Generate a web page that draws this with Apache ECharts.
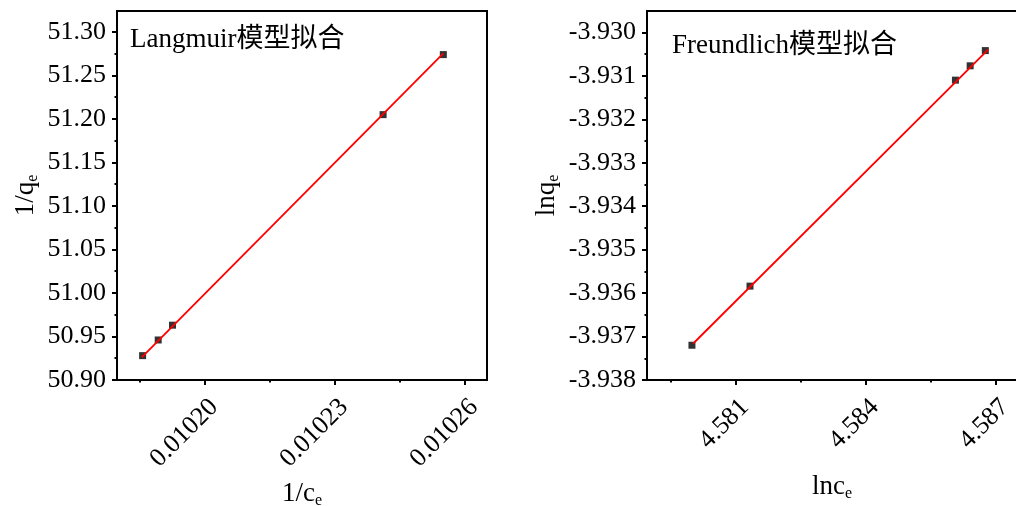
<!DOCTYPE html>
<html>
<head>
<meta charset="utf-8">
<script src="https://cdn.jsdelivr.net/npm/echarts@6/dist/echarts.min.js"></script>
<style>
html,body{margin:0;padding:0;background:#fff;}
#c{width:1016px;height:506px;}
</style>
</head>
<body>
<div id="c"></div>
<script>
// ---- Langmuir data (1/ce vs 1/qe) ----
const langX = [0.0101856, 0.0101892, 0.0101925, 0.0102411, 0.0102550];
const langY = [50.928, 50.946, 50.963, 51.205, 51.274];
const langFitX = [0.0101854, 0.0102550];
const langFitY = [50.926, 51.2755];
const langXTicks = [0.01020, 0.01023, 0.01026];
const langXMinor = [0.010185, 0.010215, 0.010245];
const langYTicks = [50.90, 50.95, 51.00, 51.05, 51.10, 51.15, 51.20, 51.25, 51.30];
const langYMinor = [50.925, 50.975, 51.025, 51.075, 51.125, 51.175, 51.225, 51.275];

// ---- Freundlich data (lnce vs lnqe) ----
const freuX = [4.57999, 4.58133, 4.58607, 4.58641, 4.58676];
const freuY = [-3.93720, -3.93584, -3.93110, -3.93077, -3.93042];
const freuFitX = [4.58002, 4.58683];
const freuFitY = [-3.93716, -3.93039];
const freuXTicks = [4.581, 4.584, 4.587];
const freuXMinor = [4.5795, 4.5825, 4.5855];
const freuYTicks = [-3.938, -3.937, -3.936, -3.935, -3.934, -3.933, -3.932, -3.931, -3.930];
const freuYMinor = [-3.9375, -3.9365, -3.9355, -3.9345, -3.9335, -3.9325, -3.9315, -3.9305];

const FONT = '"Liberation Serif", "Times New Roman", "Noto Sans CJK SC", serif';
const TICK_FS = 26;

function pairs(xs, ys) { return xs.map((x, i) => [x, ys[i]]); }

function mainAxis(gridIndex, min, max, ticks, dec, isX, nameRich) {
  const ax = {
    type: 'value', gridIndex, min, max,
    position: isX ? 'bottom' : 'left',
    splitLine: { show: false },
    axisLine: { show: true, onZero: false, lineStyle: { color: '#000', width: 2 } },
    axisTick: { show: true, inside: false, length: 5, customValues: ticks, lineStyle: { color: '#000', width: 2 } },
    axisLabel: {
      customValues: ticks,
      formatter: v => Number(v).toFixed(dec),
      fontFamily: FONT, fontSize: TICK_FS, color: '#000',
      margin: 11
    },
    name: nameRich.text,
    nameLocation: 'middle',
    nameGap: nameRich.gap,
    nameRotate: isX ? 0 : 90,
    nameTextStyle: {
      fontFamily: FONT, color: '#000',
      rich: {
        m: { fontFamily: FONT, fontSize: 27, color: '#000', lineHeight: 30 },
        s: { fontFamily: FONT, fontSize: 16, color: '#000', lineHeight: 30, padding: [14, 0, 0, 0] }
      }
    }
  };
  if (isX) {
    ax.axisLabel.rotate = 45;
    ax.axisLabel.verticalAlign = 'top';
    ax.axisLabel.margin = 14;
  }
  return ax;
}

function minorAxis(gridIndex, min, max, ticks, isX) {
  return {
    type: 'value', gridIndex, min, max,
    position: isX ? 'bottom' : 'left',
    splitLine: { show: false },
    axisLine: { show: false, onZero: false },
    axisTick: { show: true, inside: false, length: 2.5, customValues: ticks, lineStyle: { color: '#000', width: 2 } },
    axisLabel: { show: false }
  };
}

const chart = echarts.init(document.getElementById('c'), null, { renderer: 'canvas' });

const LX_MIN = 0.01017969, LX_MAX = 0.01026508;
const LY_MIN = 50.90, LY_MAX = 51.3241;
const RX_MIN = 4.578953, RX_MAX = 4.587491;
const RY_MIN = -3.938, RY_MAX = -3.929509;

const gridBase = { show: true, borderColor: '#000', borderWidth: 2, backgroundColor: 'transparent',
  containLabel: false, outerBoundsMode: 'none' };

const option = {
  backgroundColor: '#fff',
  animation: false,
  grid: [
    Object.assign({ left: 117, top: 11, width: 370, height: 369 }, gridBase),
    Object.assign({ left: 647, top: 11, width: 370, height: 369 }, gridBase)
  ],
  xAxis: [
    mainAxis(0, LX_MIN, LX_MAX, langXTicks, 5, true, { text: '{m|1/c}{s|e}', gap: 89 }),
    mainAxis(1, RX_MIN, RX_MAX, freuXTicks, 3, true, { text: '{m|lnc}{s|e}', gap: 92 }),
    minorAxis(0, LX_MIN, LX_MAX, langXMinor, true),
    minorAxis(1, RX_MIN, RX_MAX, freuXMinor, true)
  ],
  yAxis: [
    mainAxis(0, LY_MIN, LY_MAX, langYTicks, 2, false, { text: '{m|1/q}{s|e}', gap: 76 }),
    mainAxis(1, RY_MIN, RY_MAX, freuYTicks, 3, false, { text: '{m|lnq}{s|e}', gap: 85 }),
    minorAxis(0, LY_MIN, LY_MAX, langYMinor, false),
    minorAxis(1, RY_MIN, RY_MAX, freuYMinor, false)
  ],
  series: [
    { type: 'scatter', xAxisIndex: 0, yAxisIndex: 0, data: pairs(langX, langY), symbol: 'rect', symbolSize: 7,
      itemStyle: { color: '#000' }, z: 2 },
    { type: 'line', xAxisIndex: 0, yAxisIndex: 0, data: pairs(langFitX, langFitY), showSymbol: false, symbol: 'none',
      lineStyle: { color: '#ff0000', width: 1.8 }, z: 3 },
    { type: 'scatter', xAxisIndex: 1, yAxisIndex: 1, data: pairs(freuX, freuY), symbol: 'rect', symbolSize: 7,
      itemStyle: { color: '#000' }, z: 2 },
    { type: 'line', xAxisIndex: 1, yAxisIndex: 1, data: pairs(freuFitX, freuFitY), showSymbol: false, symbol: 'none',
      lineStyle: { color: '#ff0000', width: 1.8 }, z: 3 }
  ],
  graphic: [
    { type: 'text', left: 130, top: 26, z: 10,
      style: { text: 'Langmuir模型拟合', font: '27px ' + FONT, fill: '#000' } },
    { type: 'text', left: 672, top: 32, z: 10,
      style: { text: 'Freundlich模型拟合', font: '27px ' + FONT, fill: '#000' } }
  ]
};
chart.setOption(option);
</script>
</body>
</html>
